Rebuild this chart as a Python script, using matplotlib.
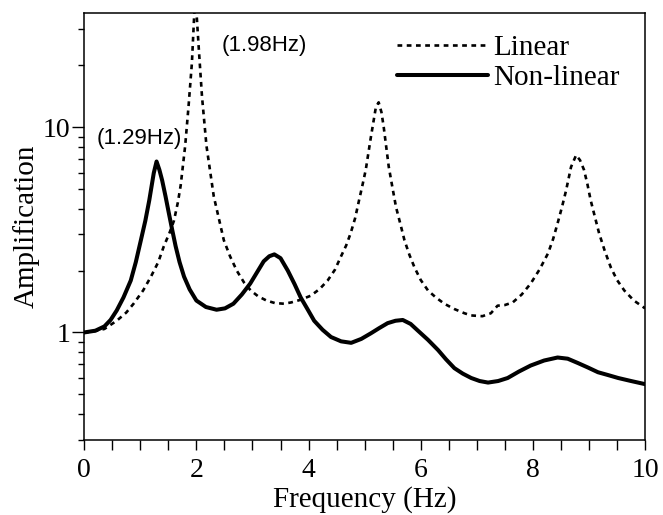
import matplotlib
matplotlib.use("Agg")
import matplotlib.pyplot as plt
from matplotlib.ticker import LogLocator, FixedLocator, NullFormatter, MultipleLocator

# ---- data ----
lin_x = [0.0, 0.15, 0.36, 0.58, 0.75, 0.88, 1.05, 1.19, 1.32, 1.42, 1.52, 1.6, 1.67,
         1.72, 1.8, 1.86, 1.92, 1.98, 2.04, 2.1, 2.18, 2.31, 2.49, 2.6, 2.72, 2.85,
         2.97, 3.1, 3.25, 3.4, 3.56, 3.69, 3.85, 4.04, 4.2, 4.34, 4.47, 4.57, 4.67,
         4.75, 4.83, 4.9, 4.96, 5.02, 5.11, 5.2, 5.25, 5.3, 5.34, 5.43, 5.5, 5.56,
         5.64, 5.71, 5.8, 5.89, 6.0, 6.13, 6.27, 6.42, 6.6, 6.78, 6.9, 7.1, 7.25,
         7.37, 7.5, 7.64, 7.8, 7.96, 8.12, 8.27, 8.36, 8.44, 8.52, 8.59, 8.68, 8.77,
         8.84, 8.91, 8.97, 9.03, 9.1, 9.18, 9.28, 9.39, 9.5, 9.63, 9.8, 10.0]
lin_y = [1.0, 1.01, 1.04, 1.14, 1.25, 1.38, 1.6, 1.87, 2.2, 2.63, 3.05, 3.5, 4.3,
         5.2, 8.1, 12.6, 20.5, 45.0, 24.8, 14.1, 8.1, 4.6, 2.81, 2.35, 2.0, 1.75,
         1.6, 1.5, 1.43, 1.39, 1.38, 1.40, 1.44, 1.51, 1.63, 1.79, 2.02, 2.32, 2.65,
         3.04, 3.6, 4.4, 5.2, 6.2, 8.9, 12.5, 13.2, 11.8, 10.0, 6.4, 5.0, 4.07,
         3.35, 2.81, 2.38, 2.07, 1.8, 1.6, 1.48, 1.38, 1.30, 1.24, 1.21, 1.2, 1.24,
         1.35, 1.36, 1.40, 1.53, 1.73, 2.03, 2.43, 2.85, 3.4, 4.1, 4.9, 6.4, 7.3,
         6.9, 6.2, 5.3, 4.4, 3.7, 3.04, 2.5, 2.07, 1.8, 1.6, 1.43, 1.31]

nl_x = [0.0, 0.2, 0.36, 0.47, 0.58, 0.7, 0.83, 0.92, 1.01, 1.09, 1.16, 1.24, 1.29,
        1.34, 1.39, 1.45, 1.51, 1.57, 1.63, 1.7, 1.78, 1.88, 2.0, 2.17, 2.36, 2.51,
        2.66, 2.81, 2.96, 3.08, 3.2, 3.3, 3.39, 3.5, 3.63, 3.75, 3.86, 3.98, 4.1,
        4.25, 4.4, 4.58, 4.76, 4.94, 5.11, 5.26, 5.41, 5.55, 5.68, 5.82, 5.95, 6.13,
        6.31, 6.45, 6.6, 6.75, 6.9, 7.05, 7.2, 7.38, 7.55, 7.75, 7.96, 8.2, 8.44,
        8.62, 8.8, 8.98, 9.16, 9.34, 9.52, 9.75, 10.0]
nl_y = [1.0, 1.02, 1.07, 1.15, 1.28, 1.48, 1.79, 2.2, 2.81, 3.5, 4.4, 5.97, 6.8,
        6.2, 5.5, 4.6, 3.8, 3.15, 2.63, 2.2, 1.87, 1.62, 1.43, 1.33, 1.29, 1.31,
        1.38, 1.53, 1.73, 1.96, 2.22, 2.35, 2.40, 2.3, 2.0, 1.72, 1.48, 1.3, 1.14,
        1.03, 0.95, 0.905, 0.89, 0.93, 0.99, 1.05, 1.11, 1.14, 1.15, 1.1, 1.02, 0.92,
        0.82, 0.74, 0.67, 0.63, 0.60, 0.58, 0.57, 0.58, 0.60, 0.645, 0.69, 0.73, 0.755,
        0.745, 0.71, 0.675, 0.64, 0.62, 0.60, 0.58, 0.56]

series_labels = ["Linear", "Non-linear"]
annotations = ["(1.29Hz)", "(1.98Hz)"]
annot_pos = [(0.23, 8.8), (2.45, 25.0)]
x_ticks = [0, 2, 4, 6, 8, 10]
y_ticks = [1, 10]

serif = ["Liberation Serif", "DejaVu Serif"]
sans = ["Liberation Sans", "DejaVu Sans"]

fig = plt.figure(figsize=(6.63, 5.15), dpi=100)
ax = fig.add_axes([0.127, 0.146, 0.846, 0.829])

ax.plot(lin_x, lin_y, color="black", lw=1.9, linestyle=(0, (1.8, 1.7)),
        label=series_labels[0])
ax.plot(nl_x, nl_y, color="black", lw=2.9, solid_capstyle="round",
        solid_joinstyle="round", label=series_labels[1])

ax.set_yscale("log")
ax.set_xlim(0, 10)
ax.set_ylim(0.3, 36)

ax.xaxis.set_major_locator(FixedLocator(x_ticks))
ax.xaxis.set_minor_locator(MultipleLocator(0.5))
ax.set_xticklabels([str(t) for t in x_ticks], fontfamily=serif, fontsize=20)

ax.yaxis.set_major_locator(FixedLocator(y_ticks))
ax.yaxis.set_minor_locator(LogLocator(base=10, subs=[2, 3, 4, 5, 6, 7, 8, 9]))
ax.yaxis.set_minor_formatter(NullFormatter())
ax.set_yticklabels([str(t) for t in y_ticks], fontfamily=serif, fontsize=20)

ax.tick_params(axis="x", which="both", direction="out", length=7, width=1.0, pad=6)
ax.tick_params(axis="y", which="major", direction="out", length=9, width=1.0, pad=1)
ax.tick_params(axis="y", which="minor", direction="out", length=4.5, width=1.0)

for s in ax.spines.values():
    s.set_linewidth(1.1)

ax.set_xlabel("Frequency (Hz)", fontfamily=serif, fontsize=21, labelpad=2)
ax.set_ylabel("Amplification", fontfamily=serif, fontsize=21, labelpad=2)

for txt, (tx, ty) in zip(annotations, annot_pos):
    ax.text(tx, ty, txt, fontfamily=sans, fontsize=16, ha="left", va="center")

leg = ax.legend(loc="upper right", bbox_to_anchor=(0.955, 0.948), frameon=False,
                prop={"family": serif, "size": 21}, handlelength=3.1,
                handletextpad=0.2, labelspacing=0.1, borderpad=0.0,
                borderaxespad=0.0)

fig.savefig("out.png", dpi=100)
